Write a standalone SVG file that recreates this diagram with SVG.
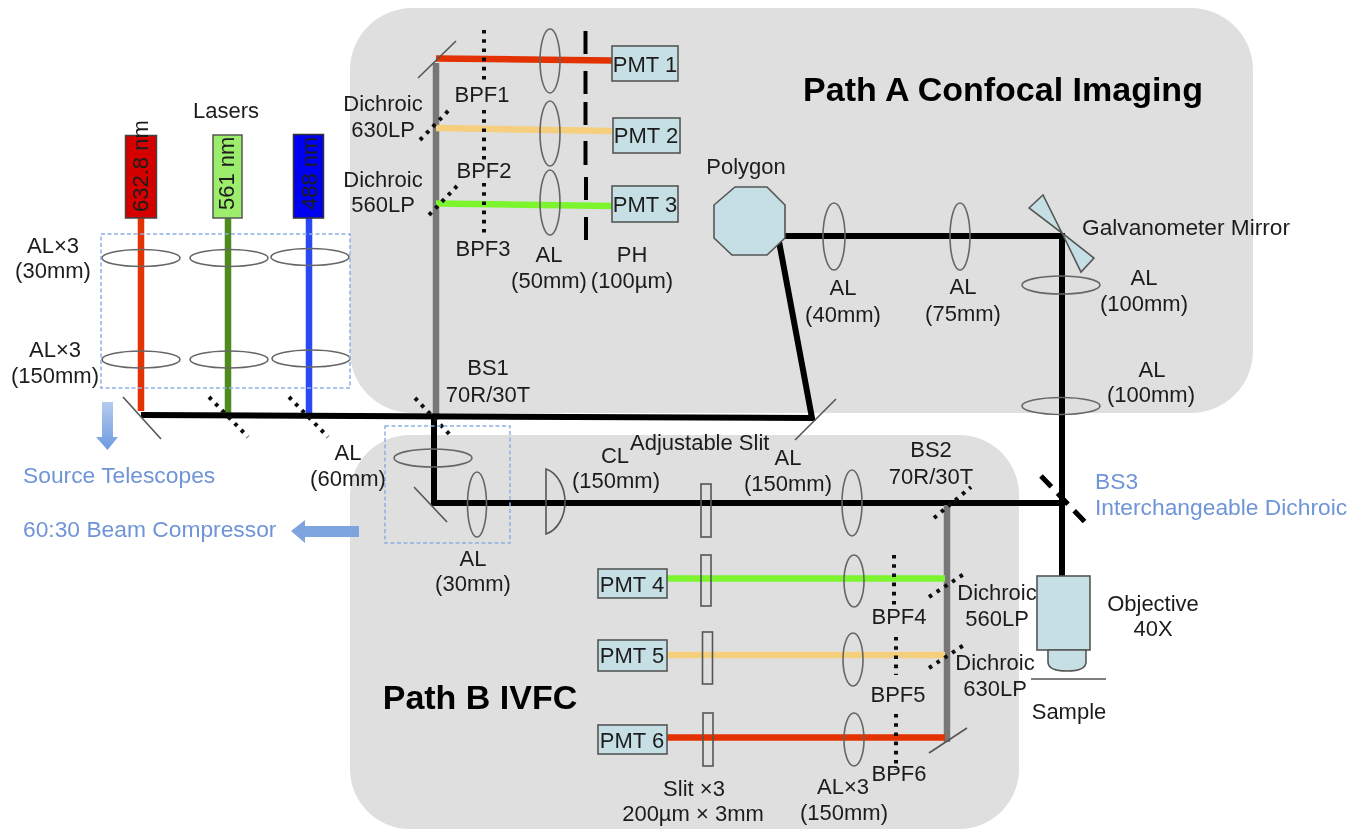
<svg xmlns="http://www.w3.org/2000/svg" width="1365" height="829" viewBox="0 0 1365 829">
<style>
text{font-family:"Liberation Sans",Arial,sans-serif;font-size:22px;fill:#1c1c1c;text-anchor:middle}
.s{text-anchor:start}
.blue{fill:#6f94d8;font-size:22.8px}
.title{font-weight:bold;font-size:34px;fill:#000}
.panel{fill:#dfdfdf}
.lens{fill:none;stroke:#666;stroke-width:1.6}
.mirror{fill:none;stroke:#555;stroke-width:1.6}
.dot{fill:none;stroke:#111;stroke-width:4;stroke-dasharray:3.6 5.6}
.ph{fill:none;stroke:#000;stroke-width:4}
.box{fill:#c5dfe4;stroke:#555;stroke-width:1.6}
.slit{fill:none;stroke:#555;stroke-width:1.6}
.guide{fill:none;stroke:#8fb0e2;stroke-width:1.5;stroke-dasharray:4 2.5}
.beam{fill:none;stroke-width:6.5}
.k{stroke:#000;stroke-width:6;fill:none;stroke-linejoin:miter}
.gray{stroke:#777}
.red{stroke:#e33000}
.orange{stroke:#f5cf7e}
.green{stroke:#7df52f}
.lred{stroke:#e53200}
.lgreen{stroke:#4f8a1e}
.lblue{stroke:#2a48f5}
</style>
<defs>
<linearGradient id="ga" x1="0" y1="0" x2="0" y2="1"><stop offset="0" stop-color="#b3cbf0"/><stop offset="1" stop-color="#6f9ade"/></linearGradient>
<filter id="soft" x="0" y="0" width="100%" height="100%"><feGaussianBlur stdDeviation="0.4"/></filter>
</defs>
<rect width="1365" height="829" fill="#fff"/>
<g filter="url(#soft)">
<g id="panel-a"><rect class="panel" x="350" y="8" width="903" height="405" rx="62"/></g>
<g id="panel-b"><rect class="panel" x="350" y="435" width="669" height="394" rx="60"/></g>

<g id="connectors">
<path class="beam gray" d="M436 63V418"/>
<path class="beam red" d="M436 58.500L612 60.500"/>
<path class="beam orange" d="M436 128L612 131"/>
<path class="beam green" d="M436 203.500L612 206"/>
<path class="beam lred" d="M141 218V411"/>
<path class="beam lgreen" d="M228 218V415"/>
<path class="beam lblue" d="M309 218V415"/>
<path class="k" d="M141 415L812 418L778 236H1062V576"/>
<path class="k" d="M434 416V503H1062"/>
<path class="beam gray" d="M947 505V742"/>
<path class="beam green" d="M667 578.500H945"/>
<path class="beam orange" d="M667 655H945"/>
<path class="beam red" d="M666 737.500H945"/>
</g>

<g id="optics-path-a">
<path class="mirror" d="M418 78L456 41"/>
<path class="dot" d="M420 140L449 110"/>
<path class="dot" d="M429 215L457 186"/>
<path class="dot" d="M484 30V83M484 110V160M484 183V233"/>
<ellipse class="lens" cx="550" cy="61" rx="10" ry="32"/>
<ellipse class="lens" cx="550" cy="133.500" rx="10" ry="32.500"/>
<ellipse class="lens" cx="550" cy="202.500" rx="10" ry="32.500"/>
<path class="ph" d="M585.500 31V54M585.500 71V94M585.500 102V125M585.500 141V165M586 177V200M586 217V240"/>
<ellipse class="lens" cx="834" cy="236.500" rx="11" ry="33.500"/>
<ellipse class="lens" cx="960" cy="236.500" rx="10" ry="33.500"/>
<ellipse class="lens" cx="1061" cy="285" rx="39" ry="9"/>
<ellipse class="lens" cx="1061" cy="406" rx="39" ry="8.500"/>
<path class="mirror" d="M795 440L836 399"/>
</g>

<g id="optics-source">
<ellipse class="lens" cx="141" cy="258" rx="39" ry="8.500"/>
<ellipse class="lens" cx="229" cy="258" rx="39" ry="8.500"/>
<ellipse class="lens" cx="310" cy="257" rx="39" ry="8.500"/>
<ellipse class="lens" cx="141" cy="359.500" rx="39" ry="8.500"/>
<ellipse class="lens" cx="229" cy="359.500" rx="39" ry="8.500"/>
<ellipse class="lens" cx="311" cy="358.500" rx="39" ry="8.500"/>
<path class="mirror" d="M123 397L161 439"/>
<path class="dot" d="M209 397L248 437"/>
<path class="dot" d="M289 397L328 437"/>
<path class="dot" d="M415 398L453 438"/>
<rect class="guide" x="101" y="234" width="249" height="154"/>
<rect class="guide" x="385" y="426" width="125" height="117"/>
</g>

<g id="optics-path-b">
<ellipse class="lens" cx="433" cy="458" rx="39" ry="9"/>
<ellipse class="lens" cx="477" cy="504.500" rx="9.500" ry="32.500"/>
<path class="mirror" d="M414 487L447 522"/>
<path class="slit" d="M546 469C558 473 565 488 565 502C565 516 558 530 546 534Z"/>
<rect class="slit" x="701" y="484" width="10" height="53"/>
<ellipse class="lens" cx="852" cy="503" rx="10" ry="33"/>
<path class="dot" d="M934 518L971 487"/>
<path d="M1041 476L1085 522" fill="none" stroke="#000" stroke-width="5" stroke-dasharray="15 9"/>
<rect class="slit" x="701" y="555" width="10" height="51"/>
<rect class="slit" x="702.500" y="632" width="10" height="52"/>
<rect class="slit" x="703" y="713" width="10" height="53"/>
<ellipse class="lens" cx="854" cy="581" rx="10" ry="26"/>
<ellipse class="lens" cx="853" cy="659.500" rx="10" ry="26.500"/>
<ellipse class="lens" cx="854" cy="739.500" rx="10" ry="26.500"/>
<path class="dot" d="M894 555V608M896 637V675M896 714V770"/>
<path class="dot" d="M929 597L967 572"/>
<path class="dot" d="M929 668L967 643"/>
<path class="mirror" d="M929 753L967 728"/>
<path class="mirror" d="M1031 679H1106"/>
</g>

<g id="laser-red"><rect x="125.500" y="135.500" width="31" height="82.500" fill="#d40000" stroke="#444" stroke-width="1.500"/><text class="s" transform="translate(148 212) rotate(-90)">632.8 nm</text></g>
<g id="laser-green"><rect x="213" y="135" width="29" height="83" fill="#9ded6c" stroke="#555" stroke-width="1.500"/><text class="s" transform="translate(234 210) rotate(-90)">561 nm</text></g>
<g id="laser-blue"><rect x="293.500" y="134.500" width="30" height="83.500" fill="#0000f0" stroke="#333" stroke-width="1.500"/><text class="s" transform="translate(317 210) rotate(-90)">488 nm</text></g>

<g id="pmt1"><rect class="box" x="612" y="46" width="66" height="35"/><text x="645" y="72">PMT 1</text></g>
<g id="pmt2"><rect class="box" x="613" y="118" width="67" height="35"/><text x="646" y="143">PMT 2</text></g>
<g id="pmt3"><rect class="box" x="612" y="186" width="66" height="36"/><text x="645" y="212">PMT 3</text></g>
<g id="pmt4"><rect class="box" x="598" y="569" width="69" height="29"/><text x="632" y="592">PMT 4</text></g>
<g id="pmt5"><rect class="box" x="598" y="640" width="69" height="31"/><text x="632" y="663">PMT 5</text></g>
<g id="pmt6"><rect class="box" x="598" y="725" width="69" height="29"/><text x="632" y="748">PMT 6</text></g>

<g id="polygon"><polygon class="box" points="735,187 767,187 785,205 785,238 767,255 732,255 714,238 714,205"/><text x="746" y="174">Polygon</text></g>
<g id="galvanometer"><polygon class="box" points="1029,208 1043,195 1062,233 1094,258 1081,272 1062,233"/><text class="s" x="1082" y="235" style="font-size:22.7px">Galvanometer Mirror</text></g>
<g id="objective"><rect class="box" x="1037" y="576" width="53" height="74"/><path class="box" d="M1048 650V662Q1048 671 1067 671Q1086 671 1086 662V650Z"/><text x="1153" y="611">Objective</text><text x="1153" y="636">40X</text></g>

<g id="arrows">
<polygon fill="url(#ga)" points="102,402 113,402 113,437 118,437 107.500,450 96,437 102,437"/>
<polygon fill="#7ea4e0" points="291,531 305,520 305,526 359,526 359,537 305,537 305,543"/>
</g>

<g id="labels">
<text class="title" x="1003" y="101">Path A Confocal Imaging</text>
<text class="title" x="480" y="709">Path B IVFC</text>
<text x="226" y="118">Lasers</text>
<text x="53" y="253">AL×3</text><text x="53" y="278">(30mm)</text>
<text x="55" y="357">AL×3</text><text x="55" y="383">(150mm)</text>
<text class="s blue" x="23" y="483">Source Telescopes</text>
<text class="s blue" x="23" y="537">60:30 Beam Compressor</text>
<text x="348" y="460">AL</text><text x="348" y="486">(60mm)</text>
<text x="473" y="566">AL</text><text x="473" y="591">(30mm)</text>
<text x="615" y="463">CL</text><text x="616" y="488">(150mm)</text>
<text class="s" x="630" y="450">Adjustable Slit</text>
<text x="788" y="465">AL</text><text x="788" y="491">(150mm)</text>
<text x="931" y="457">BS2</text><text x="931" y="484">70R/30T</text>
<text class="s blue" x="1095" y="489">BS3</text><text class="s blue" x="1095" y="515">Interchangeable Dichroic</text>
<text x="997" y="600">Dichroic</text><text x="997" y="626">560LP</text>
<text x="995" y="670">Dichroic</text><text x="995" y="696">630LP</text>
<text x="1069" y="719">Sample</text>
<text x="899" y="624">BPF4</text><text x="898" y="702">BPF5</text><text x="899" y="781">BPF6</text>
<text x="694" y="796">Slit ×3</text><text x="693" y="821">200µm × 3mm</text>
<text x="843" y="794">AL×3</text><text x="844" y="820">(150mm)</text>
<text x="482" y="102">BPF1</text><text x="484" y="178">BPF2</text><text x="483" y="256">BPF3</text>
<text x="383" y="111">Dichroic</text><text x="383" y="137">630LP</text>
<text x="383" y="187">Dichroic</text><text x="383" y="212">560LP</text>
<text x="549" y="262">AL</text><text x="549" y="288">(50mm)</text>
<text x="632" y="262">PH</text><text x="632" y="288">(100µm)</text>
<text x="843" y="295">AL</text><text x="843" y="322">(40mm)</text>
<text x="963" y="294">AL</text><text x="963" y="321">(75mm)</text>
<text x="1144" y="285">AL</text><text x="1144" y="311">(100mm)</text>
<text x="1152" y="377">AL</text><text x="1151" y="402">(100mm)</text>
<text x="488" y="375">BS1</text><text x="488" y="402">70R/30T</text>
</g>
</g>
</svg>
